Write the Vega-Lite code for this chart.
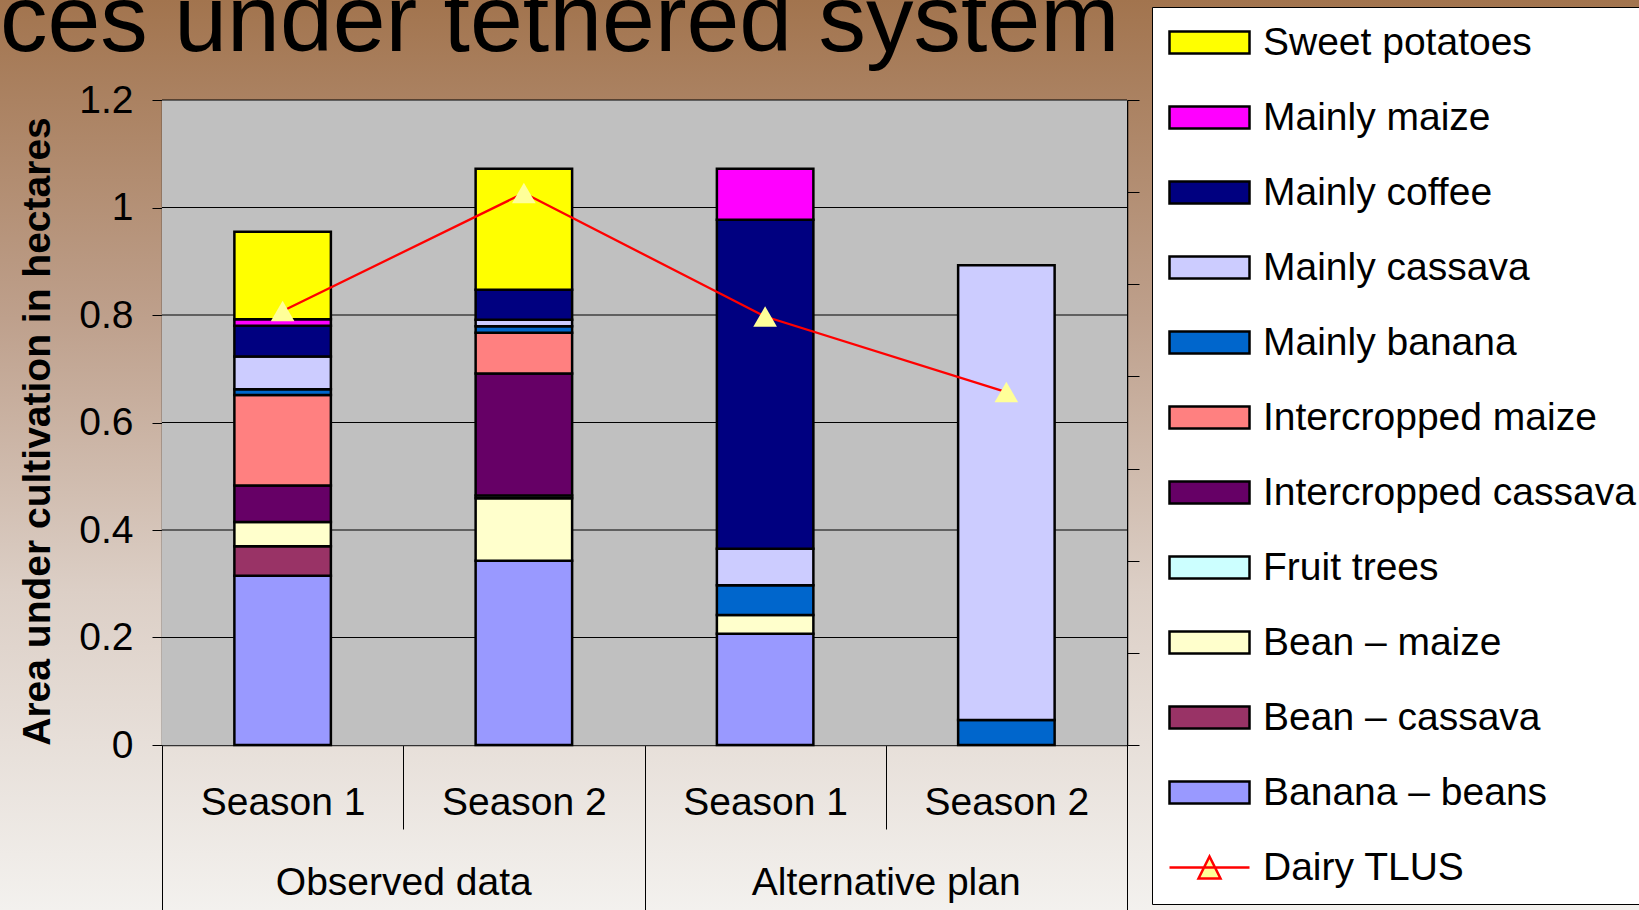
{
  "$schema": "https://vega.github.io/schema/vega-lite/v6.json",
  "width": 1639,
  "height": 910,
  "autosize": {"type": "none"},
  "padding": 0,
  "background": "#F3F1EE",
  "config": {
    "font": "Liberation Sans",
    "view": {
      "stroke": null,
      "fill": {
        "gradient": "linear", "x1": 0, "y1": 0, "x2": 0, "y2": 1,
        "stops": [
          {"offset": 0, "color": "#A2744E"},
          {"offset": 0.35, "color": "#BEA08C"},
          {"offset": 0.65, "color": "#DCCFC6"},
          {"offset": 1, "color": "#F3F1EE"}
        ]
      }
    }
  },
  "title": {
    "text": "ces under tethered system",
    "fontSize": 95,
    "font": "Liberation Sans",
    "fontWeight": "normal",
    "color": "black",
    "anchor": "start",
    "frame": "group",
    "offset": 0,
    "baseline": "alphabetic",
    "dy": 146
  },
  "resolve": {"scale": {"x": "independent", "y": "independent"}},
  "layer": [
    {
      "layer": [
        {
          "data": {"values": [{"area": "plot"}]},
          "mark": {"type": "rect", "fill": "#C0C0C0"},
          "encoding": {
            "x": {"datum": 0, "type": "quantitative", "scale": {"domain": [0, 1], "range": [162, 1127], "nice": false, "zero": false}, "axis": null},
            "x2": {"datum": 1},
            "y": {
              "datum": 0, "type": "quantitative",
              "scale": {"domain": [0, 1.2], "range": [745, 100], "nice": false},
              "axis": {
                "orient": "left", "offset": -162,
                "values": [0, 0.2, 0.4, 0.6, 0.8, 1, 1.2],
                "format": "~g",
                "grid": false,
                "tickSize": 10, "tickColor": "black", "tickWidth": 1,
                "domainColor": "#333333", "domainWidth": 1.5,
                "labelFontSize": 39, "labelFont": "Liberation Sans", "labelColor": "black", "labelPadding": 19, "labelFlush": false,
                "title": "Area under cultivation in hectares",
                "titleFontSize": 39, "titleFont": "Liberation Sans", "titleFontWeight": "bold", "titleColor": "black",
                "titleAngle": -90, "titleAlign": "center", "titleBaseline": "alphabetic",
                "titleX": -113, "titleY": 431
              }
            },
            "y2": {"datum": 1.2}
          }
        },
        {
          "data": {"values": [{"g": 0.2}, {"g": 0.4}, {"g": 0.6}, {"g": 0.8}, {"g": 1.0}, {"g": 1.2}]},
          "mark": {"type": "rule", "color": "black", "strokeWidth": 1},
          "encoding": {
            "x": {"datum": 0, "type": "quantitative"},
            "x2": {"datum": 1},
            "y": {"field": "g", "type": "quantitative"}
          }
        }
      ]
    },
    {
      "data": {"values": [{"plan": "Observed data"}, {"plan": "Alternative plan"}]},
      "mark": {"type": "text", "text": ""},
      "encoding": {
        "x": {
          "field": "plan", "type": "nominal", "sort": null,
          "scale": {"domain": ["Observed data", "Alternative plan"], "range": [162, 1127], "paddingInner": 0, "paddingOuter": 0},
          "axis": {
            "orient": "bottom", "offset": -165, "title": null,
            "tickBand": "extent", "tickSize": 170, "tickColor": "black", "tickWidth": 1,
            "domain": false, "grid": false,
            "labelFontSize": 39, "labelFont": "Liberation Sans", "labelColor": "black", "labelLimit": 600,
            "labelBaseline": "alphabetic", "labelPadding": -21, "labelAngle": 0
          }
        }
      }
    },
    {
      "resolve": {"scale": {"y": "independent"}},
      "layer": [
        {
          "data": {"values": [
            {"cat": "Observed data / Season 1", "crop": "Banana – beans", "area": 0.315},
            {"cat": "Observed data / Season 1", "crop": "Bean – cassava", "area": 0.055},
            {"cat": "Observed data / Season 1", "crop": "Bean – maize", "area": 0.045},
            {"cat": "Observed data / Season 1", "crop": "Intercropped cassava", "area": 0.068},
            {"cat": "Observed data / Season 1", "crop": "Intercropped maize", "area": 0.168},
            {"cat": "Observed data / Season 1", "crop": "Mainly banana", "area": 0.011},
            {"cat": "Observed data / Season 1", "crop": "Mainly cassava", "area": 0.061},
            {"cat": "Observed data / Season 1", "crop": "Mainly coffee", "area": 0.057},
            {"cat": "Observed data / Season 1", "crop": "Mainly maize", "area": 0.012},
            {"cat": "Observed data / Season 1", "crop": "Sweet potatoes", "area": 0.163},
            {"cat": "Observed data / Season 2", "crop": "Banana – beans", "area": 0.343},
            {"cat": "Observed data / Season 2", "crop": "Bean – maize", "area": 0.116},
            {"cat": "Observed data / Season 2", "crop": "Fruit trees", "area": 0.005},
            {"cat": "Observed data / Season 2", "crop": "Intercropped cassava", "area": 0.227},
            {"cat": "Observed data / Season 2", "crop": "Intercropped maize", "area": 0.076},
            {"cat": "Observed data / Season 2", "crop": "Mainly banana", "area": 0.012},
            {"cat": "Observed data / Season 2", "crop": "Mainly cassava", "area": 0.012},
            {"cat": "Observed data / Season 2", "crop": "Mainly coffee", "area": 0.056},
            {"cat": "Observed data / Season 2", "crop": "Sweet potatoes", "area": 0.225},
            {"cat": "Alternative plan / Season 1", "crop": "Banana – beans", "area": 0.207},
            {"cat": "Alternative plan / Season 1", "crop": "Bean – maize", "area": 0.035},
            {"cat": "Alternative plan / Season 1", "crop": "Mainly banana", "area": 0.055},
            {"cat": "Alternative plan / Season 1", "crop": "Mainly cassava", "area": 0.068},
            {"cat": "Alternative plan / Season 1", "crop": "Mainly coffee", "area": 0.612},
            {"cat": "Alternative plan / Season 1", "crop": "Mainly maize", "area": 0.095},
            {"cat": "Alternative plan / Season 2", "crop": "Mainly banana", "area": 0.0465},
            {"cat": "Alternative plan / Season 2", "crop": "Mainly cassava", "area": 0.846}
          ]},
          "transform": [
            {"calculate": "indexof(['Banana – beans','Bean – cassava','Bean – maize','Fruit trees','Intercropped cassava','Intercropped maize','Mainly banana','Mainly cassava','Mainly coffee','Mainly maize','Sweet potatoes'], datum.crop)", "as": "ord"}
          ],
          "mark": {"type": "bar", "stroke": "black", "strokeWidth": 2.5, "width": {"band": 0.4}},
          "encoding": {
            "x": {
              "field": "cat", "type": "nominal", "sort": null,
              "scale": {"domain": ["Observed data / Season 1", "Observed data / Season 2", "Alternative plan / Season 1", "Alternative plan / Season 2"], "range": [162, 1127], "paddingInner": 0, "paddingOuter": 0},
              "axis": {
                "orient": "bottom", "offset": -165, "title": null,
                "labelExpr": "split(datum.label, ' / ')[1]",
                "tickBand": "extent", "tickSize": 84, "tickColor": "black", "tickWidth": 1,
                "domain": true, "domainColor": "#333333", "domainWidth": 1.5, "grid": false,
                "labelFontSize": 39, "labelFont": "Liberation Sans", "labelColor": "black", "labelLimit": 600,
                "labelBaseline": "alphabetic", "labelPadding": -15, "labelAngle": 0
              }
            },
            "y": {
              "field": "area", "type": "quantitative", "stack": "zero",
              "scale": {"domain": [0, 1.2], "range": [745, 100], "nice": false},
              "axis": null
            },
            "order": {"field": "ord", "type": "quantitative", "sort": "ascending"},
            "color": {
              "field": "crop", "type": "nominal",
              "scale": {
                "domain": ["Sweet potatoes", "Mainly maize", "Mainly coffee", "Mainly cassava", "Mainly banana", "Intercropped maize", "Intercropped cassava", "Fruit trees", "Bean – maize", "Bean – cassava", "Banana – beans", "Dairy TLUS"],
                "range": ["#FFFF00", "#FF00FF", "#000080", "#CCCCFF", "#0066CC", "#FF8080", "#660066", "#CCFFFF", "#FFFFCC", "#993366", "#9999FF", "#FFFF99"]
              },
              "legend": {
                "orient": "none", "legendX": 1152, "legendY": 7,
                "title": null,
                "fillColor": "white", "strokeColor": "black",
                "padding": 16,
                "labelFontSize": 39, "labelFont": "Liberation Sans", "labelColor": "black", "labelLimit": 600,
                "symbolSize": 400, "symbolStrokeWidth": 2.5, "symbolStrokeColor": "black",
                "symbolType": "M-4,-1.1H4V1.1H-4Z",
                "symbolOffset": 22, "labelOffset": 34,
                "rowPadding": 35,
                "encode": {
                  "symbols": {
                    "update": {
                      "shape": {"signal": "datum.value === 'Dairy TLUS' ? 'M-4,0H4M-1.1,1.1L0,-1.1L1.1,1.1Z' : 'M-4,-1.1H4V1.1H-4Z'"},
                      "stroke": {"signal": "datum.value === 'Dairy TLUS' ? '#FF0000' : '#000000'"},
                      "strokeWidth": {"value": 2.5},
                      "opacity": {"value": 1}
                    }
                  }
                }
              }
            }
          }
        },
        {
          "data": {"values": [
            {"cat": "Observed data / Season 1", "series": "Dairy TLUS", "tlus": 4.71},
            {"cat": "Observed data / Season 2", "series": "Dairy TLUS", "tlus": 5.99},
            {"cat": "Alternative plan / Season 1", "series": "Dairy TLUS", "tlus": 4.65},
            {"cat": "Alternative plan / Season 2", "series": "Dairy TLUS", "tlus": 3.83}
          ]},
          "layer": [
            {
              "mark": {"type": "line", "stroke": "#FF0000", "strokeWidth": 2.3},
              "encoding": {
                "x": {"field": "cat", "type": "nominal", "sort": null},
                "y": {
                  "field": "tlus", "type": "quantitative",
                  "scale": {"domain": [0, 7], "range": [745, 100], "nice": false},
                  "axis": {
                    "orient": "right", "offset": -512,
                    "values": [0, 1, 2, 3, 4, 5, 6, 7],
                    "labels": false, "grid": false, "title": null,
                    "tickSize": 12, "tickColor": "black", "tickWidth": 1,
                    "domainColor": "black", "domainWidth": 1.5
                  }
                }
              }
            },
            {
              "mark": {"type": "point", "shape": "triangle-up", "filled": true, "stroke": null, "size": 560, "opacity": 1},
              "encoding": {
                "x": {"field": "cat", "type": "nominal", "sort": null},
                "y": {"field": "tlus", "type": "quantitative"},
                "color": {"field": "series", "type": "nominal"}
              }
            }
          ]
        }
      ]
    }
  ]
}
